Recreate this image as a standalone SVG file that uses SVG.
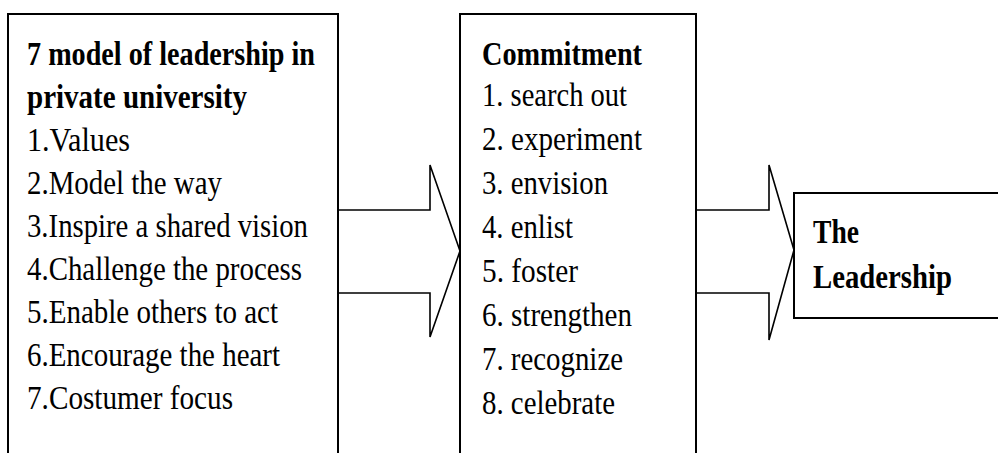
<svg xmlns="http://www.w3.org/2000/svg" width="998" height="453" viewBox="0 0 998 453">
<style>
.box{fill:#fff;stroke:#000;stroke-width:2}
.arr{fill:#fff;stroke:#000;stroke-width:1.6;stroke-linejoin:miter}
.t{font-family:"Liberation Serif","Times New Roman",serif;font-size:34px;fill:#000}
.b{font-weight:bold}
</style>
<rect width="998" height="453" fill="#fff"/>
<g id="connectors">
<path class="arr" d="M338,210 H430 V165 L460,251 L430,337 V293 H338"/>
<path class="arr" d="M696,210 H769 V165 L794,250 L769,340 V293 H696"/>
</g>
<g id="node-model">
<path class="box" d="M8,460 V14 H338 V460"/>
<text class="t b" x="27" y="65" textLength="288" lengthAdjust="spacingAndGlyphs">7 model of leadership in</text>
<text class="t b" x="27" y="108" textLength="220" lengthAdjust="spacingAndGlyphs">private university</text>
<text class="t" x="27" y="151" textLength="103" lengthAdjust="spacingAndGlyphs">1.Values</text>
<text class="t" x="27" y="194" textLength="195" lengthAdjust="spacingAndGlyphs">2.Model the way</text>
<text class="t" x="27" y="237" textLength="281" lengthAdjust="spacingAndGlyphs">3.Inspire a shared vision</text>
<text class="t" x="27" y="280" textLength="275" lengthAdjust="spacingAndGlyphs">4.Challenge the process</text>
<text class="t" x="27" y="323" textLength="251" lengthAdjust="spacingAndGlyphs">5.Enable others to act</text>
<text class="t" x="27" y="366" textLength="253" lengthAdjust="spacingAndGlyphs">6.Encourage the heart</text>
<text class="t" x="27" y="409" textLength="206" lengthAdjust="spacingAndGlyphs">7.Costumer focus</text>
</g>
<g id="node-commitment">
<path class="box" d="M460,460 V14 H696 V460"/>
<text class="t b" x="482" y="65" textLength="160" lengthAdjust="spacingAndGlyphs">Commitment</text>
<text class="t" x="482" y="106" textLength="145" lengthAdjust="spacingAndGlyphs">1. search out</text>
<text class="t" x="482" y="150" textLength="160" lengthAdjust="spacingAndGlyphs">2. experiment</text>
<text class="t" x="482" y="194" textLength="126" lengthAdjust="spacingAndGlyphs">3. envision</text>
<text class="t" x="482" y="238" textLength="91" lengthAdjust="spacingAndGlyphs">4. enlist</text>
<text class="t" x="482" y="282" textLength="96" lengthAdjust="spacingAndGlyphs">5. foster</text>
<text class="t" x="482" y="326" textLength="150" lengthAdjust="spacingAndGlyphs">6. strengthen</text>
<text class="t" x="482" y="370" textLength="141" lengthAdjust="spacingAndGlyphs">7. recognize</text>
<text class="t" x="482" y="414" textLength="133" lengthAdjust="spacingAndGlyphs">8. celebrate</text>
</g>
<g id="node-leadership">
<rect class="box" x="794" y="193" width="220" height="125"/>
<text class="t b" x="813" y="243" textLength="46" lengthAdjust="spacingAndGlyphs">The</text>
<text class="t b" x="813" y="288" textLength="139" lengthAdjust="spacingAndGlyphs">Leadership</text>
</g>
</svg>
